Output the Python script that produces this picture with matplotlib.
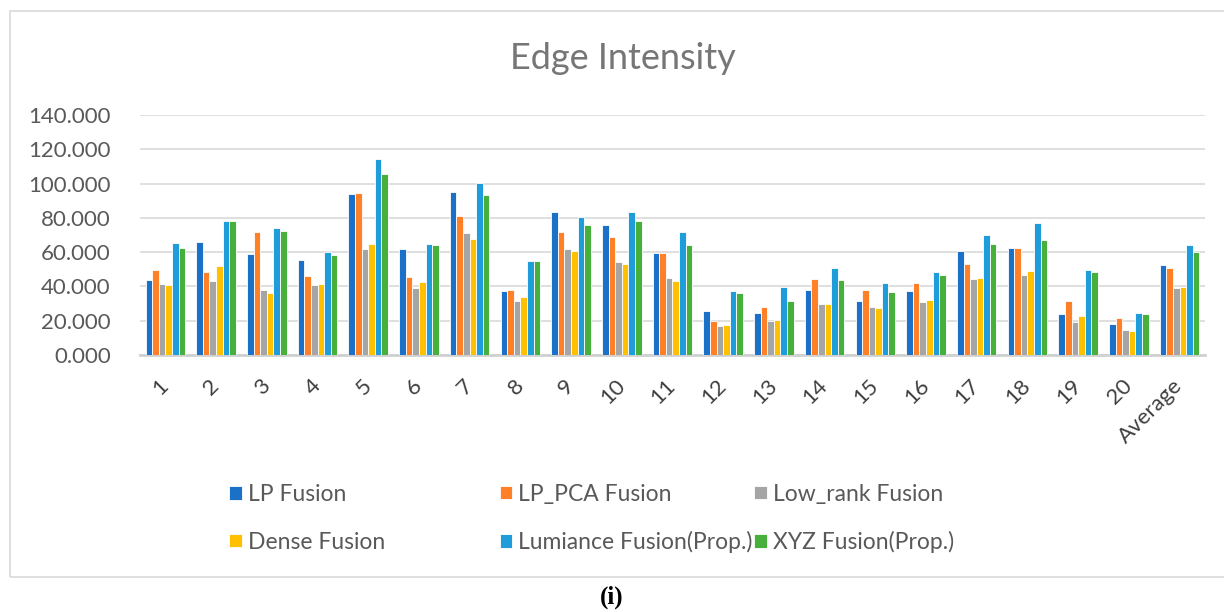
import numpy as np
import matplotlib
matplotlib.use('Agg')
import matplotlib.pyplot as plt
from matplotlib.patches import Rectangle

plt.rcParams['font.family'] = ['Lato', 'DejaVu Sans']

# Data
categories = [str(i) for i in range(1, 21)] + ['Average']
series_names = ['LP Fusion', 'LP_PCA Fusion', 'Low_rank Fusion',
                'Dense Fusion', 'Lumiance Fusion(Prop.)', 'XYZ Fusion(Prop.)']

lp_fusion = [43.7, 66.0, 59.0, 55.3, 94.2, 61.7, 95.3, 37.3, 83.3, 75.7, 59.6,
             25.4, 24.7, 37.9, 31.5, 37.1, 60.8, 62.7, 24.1, 18.1, 52.6]
lp_pca_fusion = [49.3, 48.2, 71.5, 46.0, 94.4, 45.6, 81.0, 37.9, 71.7, 68.9, 59.4,
                 19.8, 28.0, 44.3, 38.1, 41.9, 53.2, 62.5, 31.7, 21.7, 50.7]
low_rank_fusion = [41.2, 43.3, 37.9, 41.0, 61.9, 39.0, 71.3, 31.3, 61.7, 54.2, 45.2,
                   17.1, 19.6, 29.7, 27.8, 31.1, 44.5, 46.8, 19.4, 14.6, 38.8]
dense_fusion = [41.0, 51.8, 36.1, 41.4, 64.7, 42.5, 67.6, 33.6, 60.8, 52.8, 43.3,
                17.7, 20.6, 29.7, 27.2, 32.2, 44.9, 48.9, 22.7, 14.2, 39.6]
lumiance_fusion = [65.6, 77.9, 74.0, 60.0, 114.2, 64.9, 100.2, 54.6, 80.6, 83.7, 71.7,
                   37.1, 39.8, 50.5, 41.9, 48.3, 69.9, 77.1, 49.5, 24.7, 64.3]
xyz_fusion = [62.3, 78.3, 72.6, 58.4, 105.4, 64.1, 93.4, 54.8, 75.7, 78.3, 64.3,
              36.1, 31.7, 43.9, 36.9, 46.8, 64.5, 66.8, 48.2, 23.9, 60.2]

series = [lp_fusion, lp_pca_fusion, low_rank_fusion, dense_fusion, lumiance_fusion, xyz_fusion]
colors = ['#1A71C7', '#FF8026', '#A5A5A5', '#FFC000', '#1F9CDA', '#47B03D']

fig = plt.figure(figsize=(12.24, 6.12), dpi=100)
ax = fig.add_axes([0.1144, 0.42, 0.870, 0.392])

x = np.arange(len(categories))
pitch = 0.13
bars = []
for i, (vals, col) in enumerate(zip(series, colors)):
    b = ax.bar(x + (i - 2.5) * pitch, vals, width=pitch, color=col,
               edgecolor='white', linewidth=0.6, zorder=3)
    bars.append(b)

ax.set_xlim(-0.5, len(categories) - 0.5)
ax.set_ylim(0, 140)
ax.set_yticks(np.arange(0, 141, 20))
ax.set_yticklabels([f'{v:.3f}' for v in np.arange(0, 141, 20)])
ax.yaxis.grid(True, color='#D9D9D9', linewidth=1.2, zorder=0)
for s in ['top', 'right', 'left']:
    ax.spines[s].set_visible(False)
ax.spines['bottom'].set_color('#D0D0D0')
ax.spines['bottom'].set_linewidth(2)
ax.tick_params(axis='y', length=0, pad=21, labelsize=16, labelcolor='#595959')
ax.tick_params(axis='x', length=0, pad=20, labelsize=16, labelcolor='#404040')
ax.set_xticks(x)
ax.set_xticklabels(categories, rotation=45, ha='right', va='center',
                   rotation_mode='anchor')

fig.text(0.509, 0.905, 'Edge Intensity', ha='center', va='center',
         fontsize=26, color='#767676')

# legend: three equal columns, two rows
col_x = [0.178, 0.399, 0.607]
row_y = [0.192, 0.114]
for c in range(3):
    handles = [bars[c], bars[c + 3]]
    labels = [series_names[c], series_names[c + 3]]
    fig.legend(handles, labels, loc='center left',
               bbox_to_anchor=(col_x[c], (row_y[0] + row_y[1]) / 2),
               frameon=False, fontsize=16.5, labelcolor='#595959',
               handlelength=0.55, handleheight=0.55, handletextpad=0.25,
               labelspacing=1.15, borderpad=0)

# chart border and caption
fig.patches.append(Rectangle((10 / 1224, 1 - 577 / 612), 1.0, (577 - 11) / 612,
                             transform=fig.transFigure, fill=False,
                             edgecolor='#D9D9D9', linewidth=1.2))
fig.text(0.5, 1 - 597 / 612, '(i)', ha='center', va='center', fontsize=18,
         fontweight='bold', family=['Liberation Serif', 'DejaVu Serif'], color='black')

fig.savefig('out.png', dpi=100)
